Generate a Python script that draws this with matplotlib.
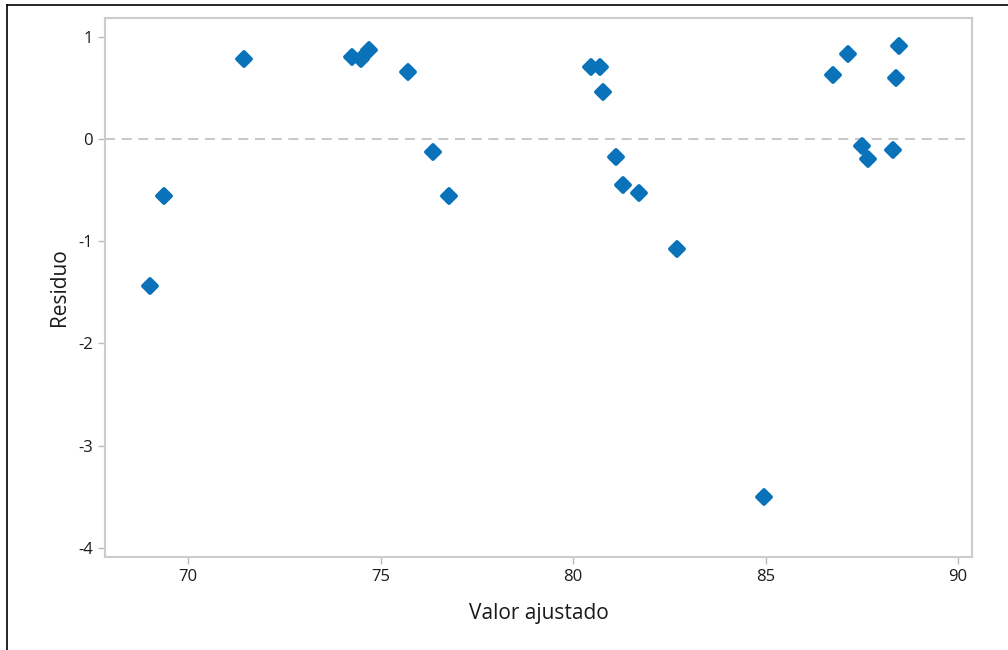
import matplotlib.pyplot as plt
from matplotlib.lines import Line2D
from matplotlib.markers import MarkerStyle

# fitted values vs residuals
fitted = [69.01, 69.38, 71.45, 74.26, 74.49, 74.70, 75.71, 76.36, 76.78,
          80.47, 80.70, 80.78, 81.12, 81.30, 81.71, 82.70, 84.96,
          86.75, 87.14, 87.51, 87.66, 88.31, 88.39, 88.47]
residual = [-1.44, -0.56, 0.78, 0.80, 0.78, 0.87, 0.66, -0.13, -0.56,
            0.71, 0.71, 0.46, -0.17, -0.45, -0.53, -1.08, -3.50,
            0.63, 0.83, -0.07, -0.19, -0.11, 0.60, 0.91]
x_ticks = [70, 75, 80, 85, 90]
y_ticks = [1, 0, -1, -2, -3, -4]

plt.rcParams["font.family"] = ["Open Sans", "DejaVu Sans"]
plt.rcParams["axes.unicode_minus"] = False

fig = plt.figure(figsize=(10.08, 6.5), dpi=100)
ax = fig.add_axes([105 / 1008, 1 - 557 / 650, (972 - 105) / 1008, (557 - 18) / 650])

ax.axhline(0, color="#bdbdbd", linestyle=(0, (6, 4)), linewidth=1.2, zorder=1)
ax.plot(fitted, residual, linestyle="none",
        marker=MarkerStyle("D", joinstyle="round"), color="#0a72b8",
        markersize=7.5, markeredgecolor="#0a72b8", markeredgewidth=2.8, zorder=3)

ax.set_xlim(67.84, 90.36)
ax.set_ylim(-4.09, 1.186)
ax.set_xticks(x_ticks)
ax.set_yticks(y_ticks)

for s in ax.spines.values():
    s.set_color("#cccccc")
    s.set_linewidth(1.5)
ax.tick_params(colors="#bbbbbb", labelcolor="#1a1a1a", labelsize=12,
               length=5, width=1)

ax.set_xlabel("Valor ajustado", fontsize=15, color="#1a1a1a", labelpad=13)
ax.set_ylabel("Residuo", fontsize=15, color="#1a1a1a", labelpad=6)

# black frame on top and left edges
fig.add_artist(Line2D([7 / 1008, 7 / 1008], [0, 1 - 5 / 650], color="black",
                      linewidth=1.2, transform=fig.transFigure))
fig.add_artist(Line2D([7 / 1008, 1], [1 - 5 / 650, 1 - 5 / 650], color="black",
                      linewidth=1.2, transform=fig.transFigure))

fig.savefig("out.png", dpi=100)
